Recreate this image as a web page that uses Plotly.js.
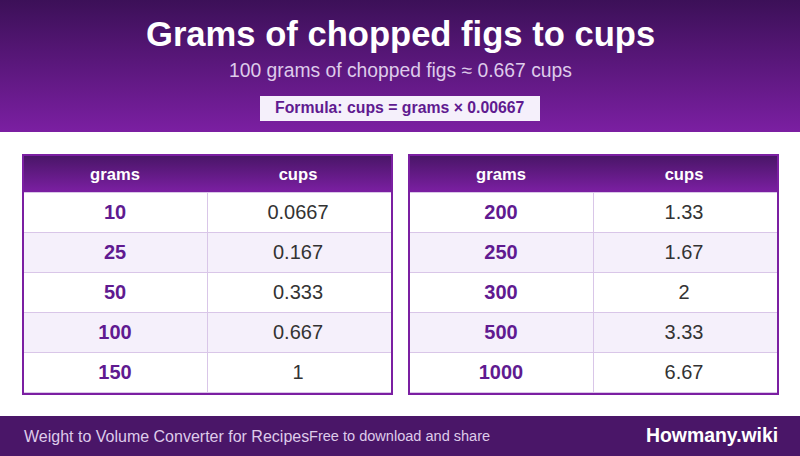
<!DOCTYPE html>
<html>
<head>
<meta charset="utf-8">
<script src="https://cdn.plot.ly/plotly-3.0.1.min.js"></script>
<style>
  html, body { margin: 0; padding: 0; background: #fff; overflow: hidden; }
  #page { position: relative; width: 800px; height: 456px; }
  .band { position: absolute; }
  #graph { position: absolute; left: 0; top: 0; width: 800px; height: 456px; }
  /* plotly pins table text to the top of the cell, the original centres it */
  #graph .cell-text { transform: translateY(4px); }
  #graph .y-column + .y-column .cell-text { transform: translate(-1px, 4px); }
</style>
</head>
<body>
<div id="page">
  <div class="band" style="left:0;top:0;width:800px;height:132px;background:linear-gradient(#3c1058,#7b1fa2)"></div>
  <div class="band" style="left:24px;top:156px;width:367px;height:36px;background:linear-gradient(#4a1668,#7b1fa2)"></div>
  <div class="band" style="left:410px;top:156px;width:367px;height:36px;background:linear-gradient(#4a1668,#7b1fa2)"></div>
  <div id="graph"></div>
</div>
<script>
const W = 800, H = 456;

// table contents
const headers = ['grams', 'cups'];
const gramsLeft = ['10', '25', '50', '100', '150'];
const cupsLeft = ['0.0667', '0.167', '0.333', '0.667', '1'];
const gramsRight = ['200', '250', '300', '500', '1000'];
const cupsRight = ['1.33', '1.67', '2', '3.33', '6.67'];

const titleText = 'Grams of chopped figs to cups';
const subtitleText = '100 grams of chopped figs ≈ 0.667 cups';
const formulaText = 'Formula: cups = grams × 0.00667';
const footerLeft = 'Weight to Volume Converter for Recipes';
const footerMiddle = 'Free to download and share';
const footerRight = 'Howmany.wiki';

const FONT = '"Liberation Sans", Arial, sans-serif';
const PURPLE = '#7b1fa2', DARK = '#4a1668', TEXTP = '#601a90', LINE = '#d9c6e8', TINT = '#f5f0fb', SOFT = '#decbea';

// pixel helpers, the layout is laid out in page pixels
const px = x => x / W;
const py = y => 1 - y / H;

function table(grams, cups, x0, x1) {
    return {
        type: 'table',
        domain: { x: [px(x0), px(x1)], y: [py(393), py(156)] },
        columnwidth: [184, 184],
        header: {
            values: headers,
            height: 36,
            align: 'center',
            fill: { color: 'rgba(0,0,0,0)' },
            line: { color: 'rgba(0,0,0,0)', width: 0 },
            font: { family: FONT, size: 16.6, color: '#ffffff', weight: 700 }
        },
        cells: {
            values: [grams, cups],
            height: 40,
            align: 'center',
            fill: { color: [['#ffffff', TINT, '#ffffff', TINT, '#ffffff']] },
            line: { color: LINE, width: 1 },
            font: { family: FONT, size: 20, color: [TEXTP, '#333333'], weight: [700, 400] }
        }
    };
}

function label(text, x, y, size, color, anchor, bold) {
    return {
        text: text, xref: 'paper', yref: 'paper', x: px(x), y: py(y),
        xanchor: anchor, yanchor: 'middle', showarrow: false,
        borderpad: 0, borderwidth: 0,
        font: { family: FONT, size: size, color: color, weight: bold ? 700 : 400 }
    };
}

function rect(x0, y0, x1, y1, fill, line) {
    return {
        type: 'rect', xref: 'paper', yref: 'paper', layer: 'above',
        x0: px(x0), x1: px(x1), y0: py(y0), y1: py(y1),
        fillcolor: fill, line: line ? { color: line, width: 2 } : { width: 0 }
    };
}

const layout = {
    width: W, height: H,
    margin: { l: 0, r: 0, t: 0, b: 0, pad: 0 },
    paper_bgcolor: 'rgba(0,0,0,0)',
    plot_bgcolor: 'rgba(0,0,0,0)',
    showlegend: false,
    shapes: [
        rect(260, 96, 540, 121, TINT),
        rect(0, 416, 800, 456, DARK),
        rect(23, 155, 392, 394, 'rgba(0,0,0,0)', PURPLE),
        rect(409, 155, 778, 394, 'rgba(0,0,0,0)', PURPLE)
    ],
    annotations: [
        label(titleText, 400, 34, 34.6, '#ffffff', 'center', true),
        label(subtitleText, 400, 70, 19.3, SOFT, 'center'),
        label(formulaText, 400, 108, 15.8, TEXTP, 'center', true),
        label(footerLeft, 24, 436, 16, SOFT, 'left'),
        label(footerMiddle, 309, 436, 14.55, SOFT, 'left'),
        label(footerRight, 778, 435, 19.4, '#ffffff', 'right', true)
    ]
};

Plotly.newPlot('graph', [
    table(gramsLeft, cupsLeft, 23, 391),
    table(gramsRight, cupsRight, 409, 777)
], layout, { displayModeBar: false });
</script>
</body>
</html>
